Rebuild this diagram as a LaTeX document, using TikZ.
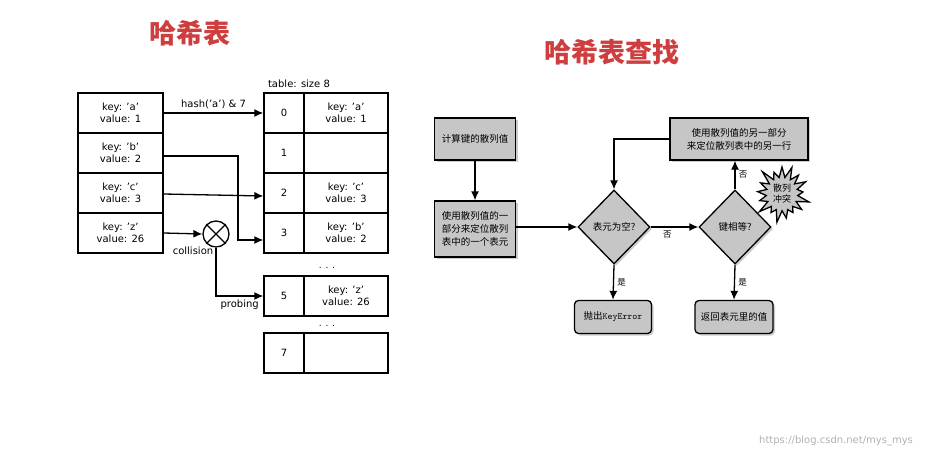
\documentclass[tikz,border=0pt]{standalone}
\usepackage{fontspec}
\setmainfont{DejaVu Sans}
\newfontfamily\cjk{Noto Sans CJK SC}
\newcommand\qq{\char"0027\relax}
\usetikzlibrary{shapes.geometric,shapes.symbols,arrows.meta,shadows}
\begin{document}
\begin{tikzpicture}[x=1pt,y=-1pt,line width=1.3pt,
 cell/.style={draw,minimum width=85pt,minimum height=40pt,inner sep=0pt,align=center,font=\fontsize{10}{12}\selectfont},
 idx/.style={draw,minimum width=40pt,minimum height=40pt,inner sep=0pt,font=\fontsize{10}{12}\selectfont},
 val/.style={draw,minimum width=84pt,minimum height=40pt,inner sep=0pt,align=center,font=\fontsize{10}{12}\selectfont},
 arr/.style={-{Latex[length=9pt,width=8pt]}},
 fbox/.style={draw,fill=gray!45,drop shadow={opacity=0.4,shadow xshift=2pt,shadow yshift=-2pt},align=center,font=\cjk\fontsize{9.5}{13}\selectfont,inner sep=2pt},
 dia/.style={draw,fill=gray!45,diamond,minimum width=72pt,minimum height=74pt,inner sep=0pt,font=\cjk\fontsize{9.5}{12}\selectfont,drop shadow={opacity=0.4,shadow xshift=2pt,shadow yshift=-2pt}},
 lbl/.style={font=\cjk\fontsize{8.5}{10}\selectfont},
 title/.style={text={rgb,255:red,206;green,62;blue,62},font=\cjk\bfseries\fontsize{27}{30}\selectfont}]
\useasboundingbox (0,0) rectangle (949,460);
\fill[white] (0,0) rectangle (949,460);
\node[title] (t1) at (190,33) {哈希表};
\node[title] (t2) at (612,52) {哈希表查找};
% left keys
\node[cell] (ka) at (120.5,113) {key: \qq a\qq\\value: 1};
\node[cell] (kb) at (120.5,153) {key: \qq b\qq\\value: 2};
\node[cell] (kc) at (120.5,193) {key: \qq c\qq\\value: 3};
\node[cell] (kz) at (120.5,233) {key: \qq z\qq\\value: 26};
% table
\node[font=\fontsize{10}{12}\selectfont] (ts) at (299,84) {table: size 8};
\node[idx] (i0) at (284,113) {0}; \node[val] (v0) at (346,113) {key: \qq a\qq\\value: 1};
\node[idx] (i1) at (284,153) {1}; \node[val] (v1) at (346,153) {};
\node[idx] (i2) at (284,193) {2}; \node[val] (v2) at (346,193) {key: \qq c\qq\\value: 3};
\node[idx] (i3) at (284,233) {3}; \node[val] (v3) at (346,233) {key: \qq b\qq\\value: 2};
\node[font=\small] (d1) at (327,268) {. . .};
\node[idx] (i5) at (284,296) {5}; \node[val] (v5) at (346,296) {key: \qq z\qq\\value: 26};
\node[font=\small] (d2) at (327,326) {. . .};
\node[idx] (i7) at (284,353) {7}; \node[val] (v7) at (346,353) {};
% arrows
\draw[arr] (ka.east) -- node[above,font=\fontsize{10}{12}\selectfont]{hash(\qq a\qq) \& 7} (i0.west);
\draw[arr] (kb.east |- 0,156) -- (238,156) -- (238,240) -- (i3.west |- 0,240);
\draw[arr] (kc.east |- 0,194) -- (i2.west |- 0,196);
\node[draw,circle,minimum size=26pt,inner sep=0pt] (col) at (216,234) {};
\draw (col.north east) -- (col.south west) (col.north west) -- (col.south east);
\draw[arr] (kz.east) -- (col.west);
\node[font=\fontsize{10}{12}\selectfont] (cl) at (193,251) {collision};
\draw[arr] (col.south) |- node[pos=0.75,below,font=\fontsize{10}{12}\selectfont]{probing} (i5.west);
% flowchart
\node[fbox,minimum width=81pt,minimum height=42pt] (b1) at (475,139) {计算键的散列值};
\node[fbox,minimum width=81pt,minimum height=56pt] (b2) at (475,229) {使用散列值的一\\部分来定位散列\\表中的一个表元};
\node[dia] (d1f) at (614,227) {表元为空?};
\node[dia] (d2f) at (735,227) {键相等?};
\node[fbox,minimum width=138pt,minimum height=42pt] (b3) at (739,139) {使用散列值的另一部分\\来定位散列表中的另一行};
\node[fbox,rounded corners=4pt,minimum width=77pt,minimum height=33pt,font=\cjk\fontsize{9.5}{12}\selectfont] (b4) at (613,317) {抛出\texttt{KeyError}};
\node[fbox,rounded corners=4pt,minimum width=78pt,minimum height=33pt] (b5) at (734,317) {返回表元里的值};
\node[starburst,draw,fill=gray!45,minimum width=60pt,minimum height=62pt,inner sep=0pt,align=center,font=\cjk\fontsize{9}{11}\selectfont] (st) at (782,194) {散列\\冲突};
\draw[arr] (b1) -- (b2);
\draw[arr] (b2.east |- d1f.west) -- (d1f.west);
\draw[arr] (d1f.east) -- node[lbl,pos=0.35,below]{否} (d2f.west);
\draw[arr] (d1f.south) -- node[lbl,right]{是} (b4.north);
\draw[arr] (d2f.south) -- node[lbl,right]{是} (b5.north);
\draw[arr] (d2f.north) -- node[lbl,right]{否} (b3.south -| d2f.north);
\draw[arr] (b3.west) -| (d1f.north);
\node[text=gray!60,font=\fontsize{10}{12}\selectfont] (wm) at (836,441) {https://blog.csdn.net/mys\_mys};
\end{tikzpicture}
\end{document}
